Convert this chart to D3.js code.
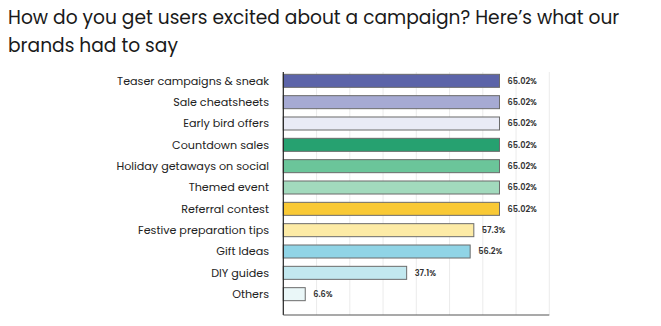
<!DOCTYPE html>
<html><head><meta charset="utf-8">
<script src="https://cdn.jsdelivr.net/npm/d3@7"></script>
<style>body{margin:0;background:#fff}svg{display:block}</style>
</head><body>
<svg id="c" width="661" height="326"></svg>
<script>
const titleLines = ["How do you get users excited about a campaign? Here\u2019s what our", "brands had to say"];
const categories = ["Teaser campaigns & sneak","Sale cheatsheets","Early bird offers","Countdown sales","Holiday getaways on social","Themed event","Referral contest","Festive preparation tips","Gift Ideas","DIY guides","Others"];
const values = [65.02,65.02,65.02,65.02,65.02,65.02,65.02,57.3,56.2,37.1,6.6];
const valueLabels = ["65.02%","65.02%","65.02%","65.02%","65.02%","65.02%","65.02%","57.3%","56.2%","37.1%","6.6%"];
const colors = ["#5c64a9","#a6aad3","#e9ebf6","#26a170","#6bc59a","#a2dabd","#f9c935","#fdeba6","#90d4e6","#c2e8ef","#eaf7f8"];
const xTicks = [10,20,30,40,50,60,70,80];

const svg = d3.select("#c");
const font = "Poppins, 'Noto Sans', sans-serif";

const title = svg.append("g");
titleLines.forEach((t,i)=>{
  title.append("text").attr("x",8).attr("y",24+i*28).attr("font-family",font)
   .attr("font-size",20).attr("fill","#1a1a1a").text(t);
});
const tn = title.select("text").node();
const w = tn.getComputedTextLength();
const fs = 20*612/w;
title.selectAll("text").attr("font-size",fs);

const x = d3.scaleLinear().domain([0,80]).range([283.3,549.3]);
const y = d3.scaleBand().domain(categories).range([66,309]).padding(0.39);

svg.append("g").selectAll("line").data(xTicks).join("line")
  .attr("x1",d=>x(d)).attr("x2",d=>x(d)).attr("y1",72).attr("y2",315)
  .attr("stroke","#ececec").attr("stroke-width",1);

svg.append("g").selectAll("rect").data(values).join("rect")
  .attr("x",x(0)).attr("y",(d,i)=>y(categories[i]))
  .attr("width",d=>x(d)-x(0)).attr("height",y.bandwidth())
  .attr("fill",(d,i)=>colors[i]).attr("stroke","#6b6b6b").attr("stroke-width",1);

svg.append("line").attr("x1",x(0)).attr("x2",x(0)).attr("y1",72).attr("y2",315).attr("stroke","#222").attr("stroke-width",1.2);
svg.append("line").attr("x1",x(0)).attr("x2",x(80)).attr("y1",315).attr("y2",315).attr("stroke","#555").attr("stroke-width",1.2);

const labels = svg.append("g").selectAll("text").data(categories).join("text")
  .attr("x",269).attr("y",d=>y(d)+y.bandwidth()/2).attr("dy","0.35em")
  .attr("text-anchor","end").attr("font-family",font).attr("font-size",12)
  .attr("fill","#222").text(d=>d);
const lw = labels.node().getComputedTextLength();
labels.attr("font-size",12*152/lw);

svg.append("g").selectAll("text").data(values).join("text")
  .attr("x",d=>x(d)+8).attr("y",(d,i)=>y(categories[i])+y.bandwidth()/2).attr("dy","0.35em")
  .attr("font-family",font).attr("font-size",8.2).attr("font-weight","600")
  .attr("fill","#333").text((d,i)=>valueLabels[i]);
</script>
</body></html>
